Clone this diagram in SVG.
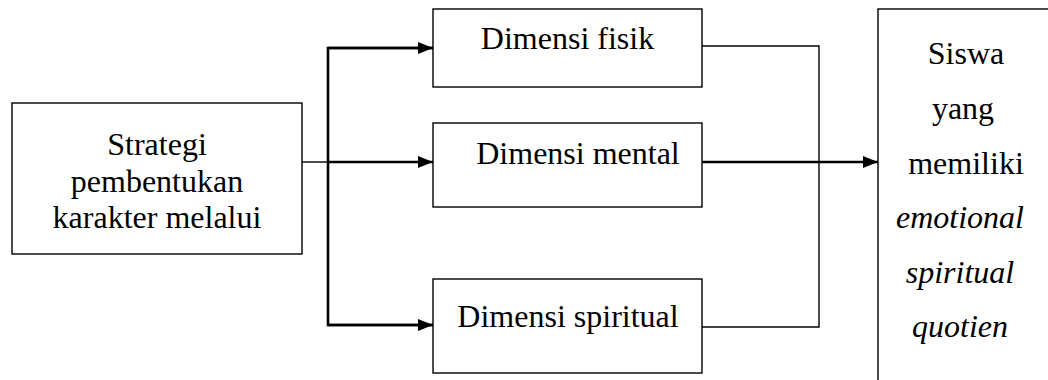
<svg xmlns="http://www.w3.org/2000/svg" width="1048" height="380" viewBox="0 0 1048 380">
<style>
.box{fill:#fff;stroke:#000;stroke-width:1.4}
.t{font-family:'Liberation Serif','Times New Roman',Times,'DejaVu Serif',serif;font-size:32px;fill:#000;text-anchor:middle}
.i{font-style:italic}
.thin{fill:none;stroke:#000;stroke-width:1.4}
.thick{fill:none;stroke:#000;stroke-width:2.6}
</style>
<defs>
<marker id="ah" viewBox="0 0 15 12" refX="15" refY="6" markerWidth="15" markerHeight="12" markerUnits="userSpaceOnUse" orient="auto">
<path d="M0,0 L15,6 L0,12 Z" fill="#000"/>
</marker>
</defs>
<rect width="1048" height="380" fill="#fff"/>
<g id="connectors">
<line class="thin" x1="302" y1="162" x2="328" y2="162"/>
<polyline class="thick" points="433,48 328,48 328,325 433,325"/>
<line class="thick" x1="328" y1="48" x2="433" y2="48" marker-end="url(#ah)"/>
<line class="thick" x1="328" y1="162" x2="433" y2="162" marker-end="url(#ah)"/>
<line class="thick" x1="328" y1="325" x2="433" y2="325" marker-end="url(#ah)"/>
<polyline class="thin" points="702,46 819,46 819,327 702,327"/>
<line class="thick" x1="702" y1="162" x2="878" y2="162" marker-end="url(#ah)"/>
</g>
<g id="strategi">
<rect class="box" x="12" y="103" width="290" height="151"/>
<text class="t" x="157" y="155">Strategi</text>
<text class="t" x="157" y="191.5">pembentukan</text>
<text class="t" x="157" y="228">karakter melalui</text>
</g>
<g id="fisik">
<rect class="box" x="433" y="9" width="269" height="78"/>
<text class="t" x="567.5" y="49">Dimensi fisik</text>
</g>
<g id="mental">
<rect class="box" x="433" y="123" width="269" height="84"/>
<text class="t" x="578" y="164">Dimensi mental</text>
</g>
<g id="spiritual">
<rect class="box" x="433" y="279" width="269" height="94"/>
<text class="t" x="568" y="327">Dimensi spiritual</text>
</g>
<g id="siswa">
<rect class="box" x="878" y="9" width="300" height="400"/>
<text class="t" x="966" y="64">Siswa</text>
<text class="t" x="963" y="119">yang</text>
<text class="t" x="966" y="174">memiliki</text>
<text class="t i" x="960" y="228">emotional</text>
<text class="t i" x="960" y="283">spiritual</text>
<text class="t i" x="960" y="337">quotien</text>
</g>
</svg>
